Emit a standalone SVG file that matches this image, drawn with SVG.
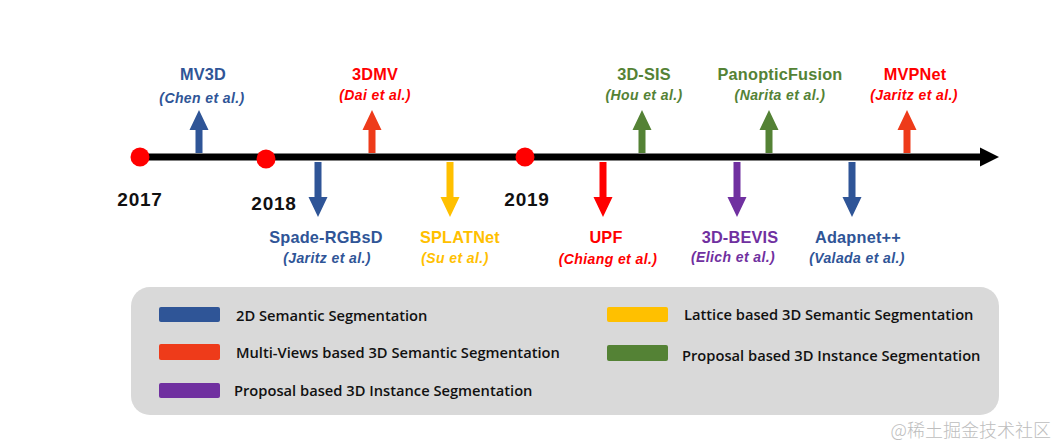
<svg xmlns="http://www.w3.org/2000/svg" width="1057" height="442" viewBox="0 0 1057 442">
<style>
.t{font-family:"Liberation Sans",Arial,sans-serif;font-weight:bold;text-anchor:middle}
.n{font-size:16.3px;letter-spacing:0.2px}
.a{font-size:14px;font-style:italic;letter-spacing:0.4px}
.y{font-size:19px;fill:#111;letter-spacing:0.8px}
.lg{font-family:"Open Sans","Liberation Sans",sans-serif;font-weight:600;font-size:14.7px;fill:#111}
.blue{fill:#2F5597}.red{fill:#FF0000}.ored{fill:#EE3B1A}.green{fill:#548235}.yellow{fill:#FFC000}.purple{fill:#7030A0}
</style>
<defs>
<path id="up" d="M-3.5,0 V-23 H-9.5 L0,-43 L9.5,-23 H3.5 V0 Z"/>
<path id="down" d="M-3.5,0 V35 H-9.5 L0,55 L9.5,35 H3.5 V0 Z"/>
</defs>
<rect width="1057" height="442" fill="#fff"/>
<g id="connectors">
<line x1="136" y1="157" x2="982" y2="157" stroke="#000" stroke-width="7"/>
<polygon points="980,147.5 999,157 980,166.5" fill="#000"/>
</g>
<g id="years">
<circle cx="140" cy="157" r="9.5" fill="#FF0000"/>
<circle cx="266" cy="159" r="9.5" fill="#FF0000"/>
<circle cx="525" cy="157" r="9.5" fill="#FF0000"/>
<text class="t y" x="140" y="206">2017</text>
<text class="t y" x="274" y="210">2018</text>
<text class="t y" x="527" y="206">2019</text>
</g>
<g id="mv3d"><use href="#up" x="199" y="153" class="blue"/><text class="t n blue" x="203" y="80">MV3D</text><text class="t a blue" x="202" y="103">(Chen et al.)</text></g>
<g id="3dmv"><use href="#up" x="372" y="153" class="ored"/><text class="t n red" x="375" y="80">3DMV</text><text class="t a red" x="375" y="100">(Dai et al.)</text></g>
<g id="3dsis"><use href="#up" x="642" y="153" class="green"/><text class="t n green" x="644" y="80">3D-SIS</text><text class="t a green" x="644" y="100">(Hou et al.)</text></g>
<g id="panopticfusion"><use href="#up" x="769" y="153" class="green"/><text class="t n green" x="780" y="80">PanopticFusion</text><text class="t a green" x="780" y="100">(Narita et al.)</text></g>
<g id="mvpnet"><use href="#up" x="907" y="153" class="ored"/><text class="t n red" x="915" y="80">MVPNet</text><text class="t a red" x="914" y="100">(Jaritz et al.)</text></g>
<g id="spade"><use href="#down" x="318" y="162" class="blue"/><text class="t n blue" x="326" y="243">Spade-RGBsD</text><text class="t a blue" x="327" y="263">(Jaritz et al.)</text></g>
<g id="splatnet"><use href="#down" x="450" y="162" class="yellow"/><text class="t n yellow" x="460" y="243">SPLATNet</text><text class="t a yellow" x="455" y="263">(Su et al.)</text></g>
<g id="upf"><use href="#down" x="603" y="162" class="red"/><text class="t n red" x="606" y="243">UPF</text><text class="t a red" x="608" y="264">(Chiang et al.)</text></g>
<g id="3dbevis"><use href="#down" x="737" y="162" class="purple"/><text class="t n purple" x="740" y="243">3D-BEVIS</text><text class="t a purple" x="733" y="262">(Elich et al.)</text></g>
<g id="adapnet"><use href="#down" x="852" y="162" class="blue"/><text class="t n blue" x="858" y="243">Adapnet++</text><text class="t a blue" x="857" y="263">(Valada et al.)</text></g>
<g id="legend">
<rect x="131" y="287" width="868" height="128" rx="19" fill="#D9D9D9"/>
<rect x="159" y="307" width="61" height="15" rx="2" class="blue"/>
<text class="lg" x="236" y="321">2D Semantic Segmentation</text>
<rect x="159" y="344" width="61" height="16" rx="2" class="ored"/>
<text class="lg" x="236" y="358">Multi-Views based 3D Semantic Segmentation</text>
<rect x="159" y="383" width="61" height="15" rx="2" class="purple"/>
<text class="lg" x="234" y="396">Proposal based 3D Instance Segmentation</text>
<rect x="607" y="307" width="61" height="15" rx="2" class="yellow"/>
<text class="lg" x="684" y="320">Lattice based 3D Semantic Segmentation</text>
<rect x="607" y="345" width="61" height="16" rx="2" class="green"/>
<text class="lg" x="682" y="361">Proposal based 3D Instance Segmentation</text>
</g>
<text x="1051" y="437" text-anchor="end" font-family="Noto Sans CJK SC,sans-serif" font-size="18" font-weight="300" fill="#BDBDBD">@稀土掘金技术社区</text>
</svg>
